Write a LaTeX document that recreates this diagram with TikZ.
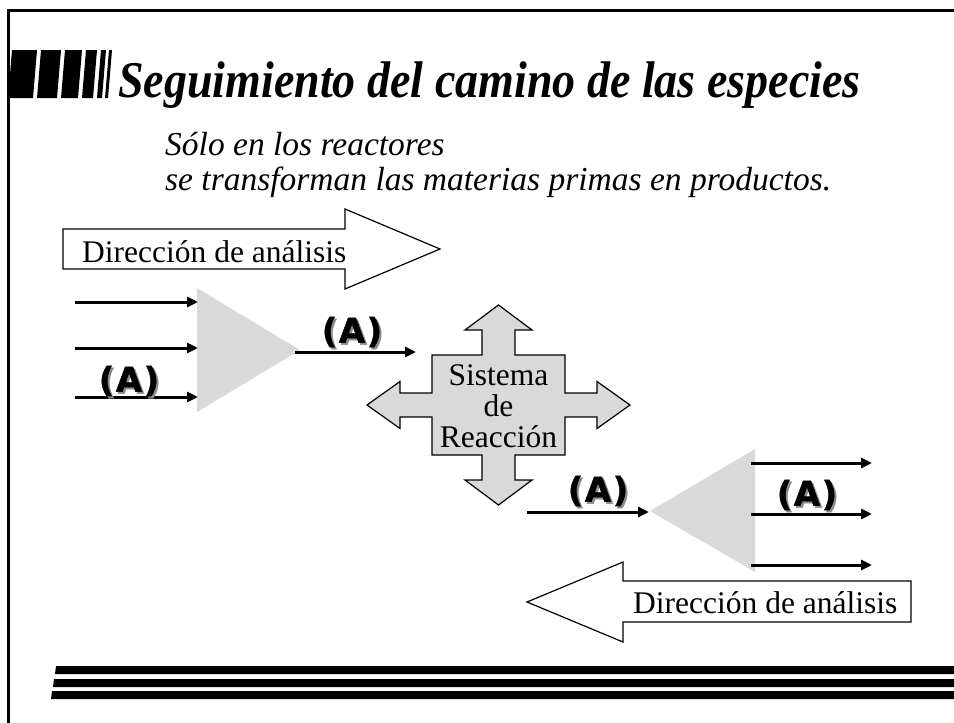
\documentclass[tikz,border=0pt]{standalone}
\usepackage{fontspec}
\setmainfont{Liberation Serif}
\newfontfamily\asans{DejaVu Sans}[FakeBold=1.2]
\usetikzlibrary{arrows.meta}
\definecolor{tri}{RGB}{217,217,217}
\definecolor{shad}{RGB}{140,140,140}
\newcommand{\alabtext}{(\hspace{1.5pt}A\hspace{1.5pt})}
\newcommand{\alabshadow}{{\color{shad}\rlap{\hspace{2pt}\raisebox{-2pt}{\alabtext}}}\alabtext}
\begin{document}
\begin{tikzpicture}[x=1pt,y=-1pt,
  flow/.style={line width=3pt,-{Triangle[length=11pt,width=10pt]}},
  blockarrow/.style={draw=black,line width=1.2pt,fill=white,line join=miter},
  lbl/.style={font=\fontsize{31.5}{31}\selectfont,inner sep=0pt},
  alab/.style={font=\asans\bfseries\fontsize{34}{34}\selectfont,inner sep=0pt},
  graytri/.style={fill=tri,draw=none},
  bar/.style={fill=black,draw=none}]
\useasboundingbox (0,0) rectangle (954,723);
% frame
\draw[line width=3pt] (8.5,723) -- (8.5,10) -- (954,10);
% title bars
\foreach \a/\b in {8/33,37/57,61/78,82/93,97/102,105/108}
  \fill[bar] (\a,98) -- (\b,98) -- (\b+4,50) -- (\a+4,50) -- cycle;
\node[anchor=base west,inner sep=0pt,font=\bfseries\itshape\fontsize{46}{46}\selectfont] (title) at (118,97) {\scalebox{1}[1.12]{Seguimiento del camino de las especies}};
\node[anchor=base west,inner sep=0pt,font=\itshape\fontsize{33.5}{35}\selectfont] (sub1) at (165,155) {Sólo en los reactores};
\node[anchor=base west,inner sep=0pt,font=\itshape\fontsize{33.5}{35}\selectfont] (sub2) at (165,190) {se transforman las materias primas en productos.};
% top direction arrow
\draw[blockarrow] (63,229) -- (345,229) -- (345,209) -- (440,249) -- (345,289) -- (345,269) -- (63,269) -- cycle;
\node[lbl,anchor=base west] (dir1) at (82,262) {Dirección de análisis};
% left triangle
\fill[graytri] (197,288) -- (197,412) -- (300,350) -- cycle;
\coordinate (l1s) at (75,302); \coordinate (l1e) at (198,302);
\coordinate (l2s) at (75,348); \coordinate (l2e) at (198,348);
\coordinate (l3s) at (75,397); \coordinate (l3e) at (198,397);
\coordinate (ms) at (295,352); \coordinate (me) at (416,352);
\draw[flow] (l1s) -- (l1e);
\draw[flow] (l2s) -- (l2e);
\draw[flow] (l3s) -- (l3e);
\draw[flow] (ms) -- (me);
\node[alab] (aL) at (129,382) {\alabshadow};
\node[alab] (aM) at (352,333) {\alabshadow};
% reaction cross
\draw[line width=1.2pt,fill=tri,line join=miter] (498.5,305) -- (532,330) -- (515,330) -- (515,355) -- (565,355) -- (565,393) -- (597,393) -- (597,381.5) -- (630,405) -- (597,428.5) -- (597,417) -- (565,417) -- (565,455) -- (515,455) -- (515,480) -- (532,480) -- (498.5,505) -- (465,480) -- (482,480) -- (482,455) -- (432,455) -- (432,417) -- (400,417) -- (400,428.5) -- (367,405) -- (400,381.5) -- (400,393) -- (432,393) -- (432,355) -- (482,355) -- (482,330) -- (465,330) -- cycle;
\node[lbl,align=center] (sys) at (498.5,406) {Sistema\\de\\Reacción};
% right part
\fill[graytri] (755,449) -- (755,572) -- (650,511) -- cycle;
\coordinate (rs) at (527,512); \coordinate (re) at (649,512);
\coordinate (o1s) at (751,463); \coordinate (o1e) at (872,463);
\coordinate (o2s) at (751,514); \coordinate (o2e) at (872,514);
\coordinate (o3s) at (751,565); \coordinate (o3e) at (872,565);
\draw[flow] (rs) -- (re);
\draw[flow] (o1s) -- (o1e);
\draw[flow] (o2s) -- (o2e);
\draw[flow] (o3s) -- (o3e);
\node[alab] (aR1) at (598,492) {\alabshadow};
\node[alab] (aR2) at (807,496) {\alabshadow};
% bottom direction arrow
\draw[blockarrow] (911,581) -- (623,581) -- (623,562) -- (527,602) -- (623,642) -- (623,622) -- (911,622) -- cycle;
\node[lbl,anchor=base west] (dir2) at (633,613) {Dirección de análisis};
% bottom stripes
\fill[bar] (56,666) -- (954,666) -- (954,674) -- (55,674) -- cycle;
\fill[bar] (54,679) -- (954,679) -- (954,687) -- (53,687) -- cycle;
\fill[bar] (52,691) -- (954,691) -- (954,699) -- (51,699) -- cycle;
\end{tikzpicture}
\end{document}
